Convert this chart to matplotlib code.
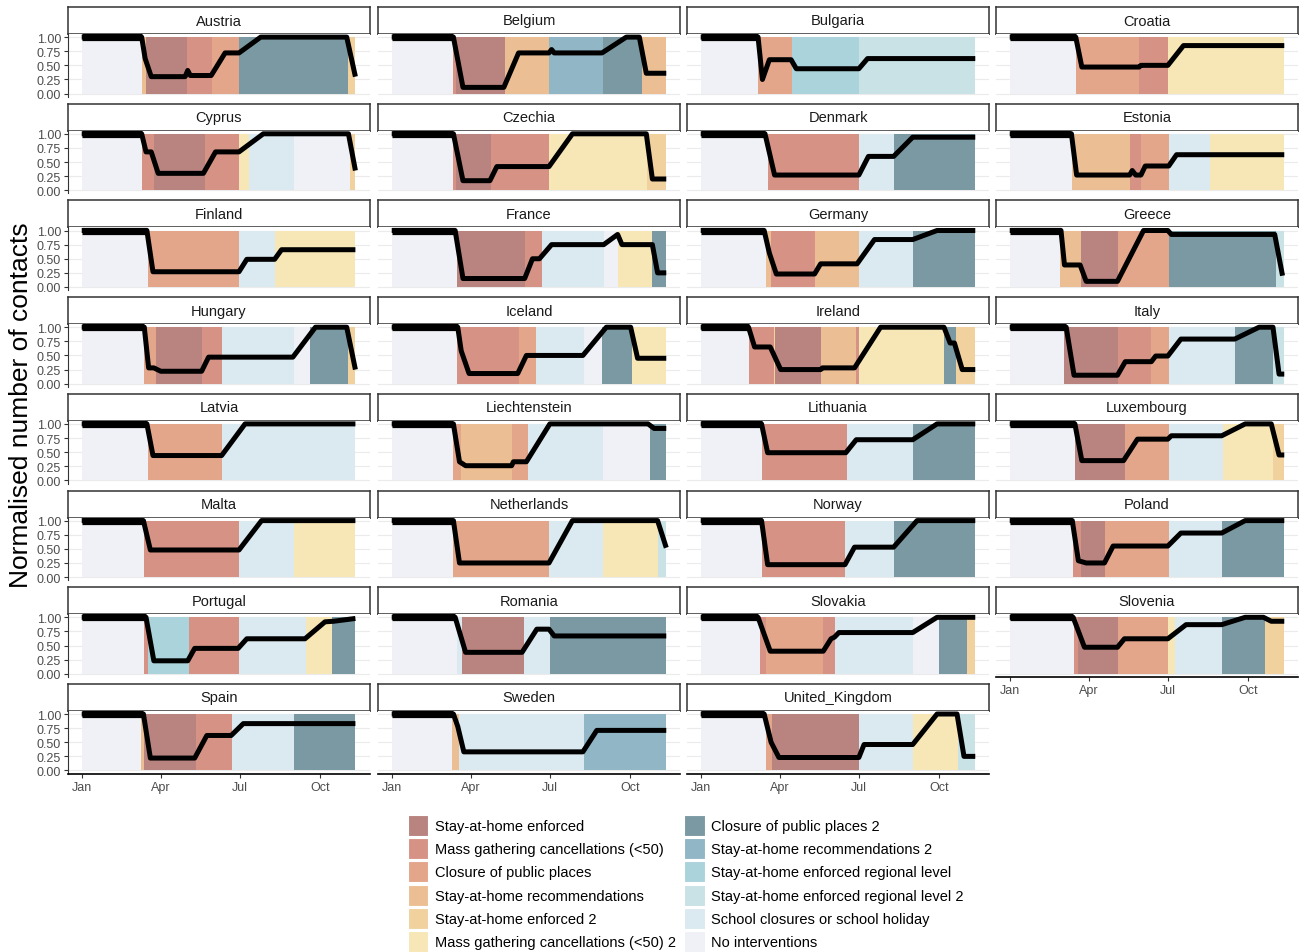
import matplotlib
matplotlib.use("Agg")
import matplotlib.pyplot as plt
from matplotlib.patches import Patch

plt.rcParams['font.family'] = ['Liberation Sans', 'DejaVu Sans']

# intervention categories (code, legend label, colour)
codes = ['SE', 'MG', 'CP', 'SR', 'SE2', 'MG2', 'CP2', 'SR2', 'SER', 'SER2', 'SC', 'NI']
labels = ['Stay-at-home enforced', 'Mass gathering cancellations (<50)',
          'Closure of public places', 'Stay-at-home recommendations',
          'Stay-at-home enforced 2', 'Mass gathering cancellations (<50) 2',
          'Closure of public places 2', 'Stay-at-home recommendations 2',
          'Stay-at-home enforced regional level', 'Stay-at-home enforced regional level 2',
          'School closures or school holiday', 'No interventions']
colors = ['#B98480', '#D69385', '#E3A68B', '#EBBF93', '#F1D29E', '#F7E7B6',
          '#7B99A2', '#91B6C5', '#ABD3DB', '#C8E2E6', '#DBEAF1', '#EFF1F6']

# days since 1 Jan 2020
month_ticks = [0, 91, 182, 274]
month_labels = ['Jan', 'Apr', 'Jul', 'Oct']

austria_bands = [(0, 69, 'NI'), (69, 74, 'SR'), (74, 121, 'SE'), (121, 150, 'MG'), (150, 181, 'CP'),
                 (181, 307, 'CP2'), (307, 315, 'SE2')]
austria_line = [(0, 1), (69, 1), (73, 0.62), (80, 0.3), (119, 0.3), (122, 0.41), (125, 0.32), (149, 0.32),
                (165, 0.72), (181, 0.72), (206, 1), (305, 1), (315, 0.3)]

belgium_bands = [(0, 71, 'NI'), (71, 74, 'MG'), (74, 130, 'SE'), (130, 181, 'SR'), (181, 243, 'SR2'),
                 (243, 288, 'CP2'), (288, 316, 'SR')]
belgium_line = [(0, 1), (71, 1), (82, 0.11), (129, 0.11), (146, 0.72), (181, 0.72), (184, 0.78), (187, 0.72),
                (242, 0.72), (270, 1), (285, 1), (293, 0.36), (316, 0.36)]

bulgaria_bands = [(0, 66, 'NI'), (66, 105, 'CP'), (105, 182, 'SER'), (182, 316, 'SER2')]
bulgaria_line = [(0, 1), (66, 1), (71, 0.25), (79, 0.6), (104, 0.6), (110, 0.44), (182, 0.44), (192, 0.62),
                 (316, 0.62)]

croatia_bands = [(0, 76, 'NI'), (76, 149, 'CP'), (149, 182, 'MG'), (182, 316, 'MG2')]
croatia_line = [(0, 1), (76, 1), (83, 0.47), (149, 0.47), (151, 0.5), (182, 0.5), (200, 0.85), (316, 0.85)]

cyprus_bands = [(0, 69, 'NI'), (69, 83, 'MG'), (83, 142, 'SE'), (142, 181, 'MG'), (181, 193, 'MG2'),
                (193, 244, 'SC'), (244, 309, 'NI'), (309, 315, 'SE2')]
cyprus_line = [(0, 1), (69, 1), (74, 0.68), (80, 0.68), (88, 0.3), (140, 0.3), (154, 0.68), (181, 0.68),
               (209, 1), (307, 1), (315, 0.35)]

czechia_bands = [(0, 71, 'NI'), (71, 74, 'MG'), (74, 114, 'SE'), (114, 181, 'MG'), (181, 294, 'MG2'),
                 (294, 316, 'SE2')]
czechia_line = [(0, 1), (71, 1), (82, 0.17), (113, 0.17), (121, 0.42), (181, 0.42), (208, 1), (293, 1),
                (300, 0.2), (316, 0.2)]

denmark_bands = [(0, 77, 'NI'), (77, 182, 'MG'), (182, 222, 'SC'), (222, 316, 'CP2')]
denmark_line = [(0, 1), (74, 1), (85, 0.27), (182, 0.27), (193, 0.6), (222, 0.6), (244, 0.94), (316, 0.94)]

estonia_bands = [(0, 72, 'NI'), (72, 138, 'SR'), (138, 151, 'MG'), (151, 183, 'CP'), (183, 231, 'SC'),
                 (231, 316, 'MG2')]
estonia_line = [(0, 1), (71, 1), (77, 0.27), (138, 0.27), (141, 0.35), (145, 0.27), (151, 0.27), (156, 0.43),
                (183, 0.43), (192, 0.63), (316, 0.63)]

finland_bands = [(0, 76, 'NI'), (76, 181, 'CP'), (181, 222, 'SC'), (222, 315, 'MG2')]
finland_line = [(0, 1), (75, 1), (82, 0.27), (181, 0.27), (190, 0.49), (222, 0.49), (230, 0.66), (315, 0.66)]

france_bands = [(0, 75, 'NI'), (75, 153, 'SE'), (153, 173, 'MG'), (173, 244, 'SC'), (244, 260, 'NI'),
                (260, 300, 'MG2'), (300, 316, 'CP2')]
france_line = [(0, 1), (73, 1), (82, 0.15), (153, 0.15), (162, 0.5), (170, 0.5), (184, 0.75), (244, 0.75),
               (260, 0.93), (265, 0.75), (300, 0.75), (306, 0.25), (316, 0.25)]

germany_bands = [(0, 75, 'NI'), (75, 81, 'SR'), (81, 131, 'MG'), (131, 182, 'SR'), (182, 244, 'SC'),
                 (244, 316, 'CP2')]
germany_line = [(0, 1), (73, 1), (79, 0.6), (87, 0.23), (131, 0.23), (138, 0.41), (180, 0.41), (200, 0.84),
                (244, 0.84), (272, 1), (316, 1)]

greece_bands = [(0, 58, 'NI'), (58, 82, 'SR'), (82, 125, 'SE'), (125, 183, 'CP'), (183, 307, 'CP2'),
                (307, 316, 'SER2')]
greece_line = [(0, 1), (59, 1), (63, 0.39), (81, 0.39), (88, 0.1), (124, 0.1), (154, 1), (182, 1),
               (186, 0.93), (305, 0.93), (314, 0.2)]

hungary_bands = [(0, 72, 'NI'), (72, 86, 'CP'), (86, 139, 'SE'), (139, 162, 'MG'), (162, 244, 'SC'),
                 (244, 263, 'NI'), (263, 307, 'CP2'), (307, 315, 'SE2')]
hungary_line = [(0, 1), (72, 1), (77, 0.28), (83, 0.28), (91, 0.22), (138, 0.22), (146, 0.47), (243, 0.47),
                (269, 1), (305, 1), (315, 0.25)]

iceland_bands = [(0, 75, 'NI'), (75, 146, 'MG'), (146, 166, 'CP'), (166, 221, 'SC'), (221, 242, 'NI'),
                 (242, 276, 'CP2'), (276, 316, 'MG2')]
iceland_line = [(0, 1), (76, 1), (80, 0.58), (89, 0.18), (145, 0.18), (155, 0.5), (220, 0.5), (247, 1),
                (275, 1), (283, 0.45), (316, 0.45)]

ireland_bands = [(0, 55, 'NI'), (55, 84, 'MG'), (84, 86, 'SE2'), (86, 138, 'SE'), (138, 179, 'SR'),
                 (179, 182, 'MG'), (182, 280, 'MG2'), (280, 294, 'CP2'), (294, 316, 'SE2')]
ireland_line = [(0, 1), (55, 1), (62, 0.65), (80, 0.65), (92, 0.25), (138, 0.25), (140, 0.28), (177, 0.28),
                (207, 1), (280, 1), (287, 0.72), (292, 0.72), (301, 0.25), (316, 0.25)]

italy_bands = [(0, 63, 'NI'), (63, 125, 'SE'), (125, 163, 'MG'), (163, 183, 'CP'), (183, 259, 'SC'),
               (259, 303, 'CP2'), (303, 316, 'SER2')]
italy_line = [(0, 1), (65, 1), (74, 0.15), (124, 0.15), (133, 0.39), (163, 0.39), (168, 0.49), (182, 0.49),
              (197, 0.79), (259, 0.79), (287, 1), (303, 1), (310, 0.17), (316, 0.17)]

latvia_bands = [(0, 76, 'NI'), (76, 162, 'CP'), (162, 315, 'SC')]
latvia_line = [(0, 1), (75, 1), (82, 0.44), (161, 0.44), (188, 1), (315, 1)]

liechtenstein_bands = [(0, 71, 'NI'), (71, 80, 'CP'), (80, 138, 'SR'), (138, 157, 'CP'), (157, 243, 'SC'),
                       (243, 297, 'NI'), (297, 316, 'CP2')]
liechtenstein_line = [(0, 1), (71, 1), (78, 0.33), (85, 0.26), (138, 0.26), (140, 0.33), (155, 0.33),
                      (182, 1), (295, 1), (302, 0.92), (316, 0.92)]

lithuania_bands = [(0, 71, 'NI'), (71, 168, 'MG'), (168, 244, 'SC'), (244, 316, 'CP2')]
lithuania_line = [(0, 1), (70, 1), (77, 0.49), (167, 0.49), (179, 0.72), (244, 0.72), (272, 1), (316, 1)]

luxembourg_bands = [(0, 75, 'NI'), (75, 133, 'SE'), (133, 183, 'CP'), (183, 245, 'SC'), (245, 303, 'MG2'),
                    (303, 316, 'SE2')]
luxembourg_line = [(0, 1), (75, 1), (83, 0.35), (131, 0.35), (147, 0.73), (182, 0.73), (186, 0.79),
                   (244, 0.79), (271, 1), (301, 1), (310, 0.45), (316, 0.45)]

malta_bands = [(0, 72, 'NI'), (72, 181, 'MG'), (181, 244, 'SC'), (244, 315, 'MG2')]
malta_line = [(0, 1), (71, 1), (79, 0.48), (181, 0.48), (207, 1), (315, 1)]

netherlands_bands = [(0, 71, 'NI'), (71, 181, 'CP'), (181, 243, 'SC'), (243, 307, 'MG2'), (307, 316, 'SER2')]
netherlands_line = [(0, 1), (71, 1), (78, 0.25), (181, 0.25), (208, 1), (306, 1), (316, 0.52)]

norway_bands = [(0, 71, 'NI'), (71, 166, 'MG'), (166, 222, 'SC'), (222, 316, 'CP2')]
norway_line = [(0, 1), (70, 1), (77, 0.22), (166, 0.22), (177, 0.53), (222, 0.53), (249, 1), (316, 1)]

poland_bands = [(0, 73, 'NI'), (73, 82, 'MG'), (82, 110, 'SE'), (110, 183, 'CP'), (183, 244, 'SC'),
                (244, 316, 'CP2')]
poland_line = [(0, 1), (72, 1), (79, 0.29), (88, 0.25), (109, 0.25), (119, 0.55), (182, 0.55), (197, 0.78),
               (244, 0.78), (271, 1), (316, 1)]

portugal_bands = [(0, 72, 'NI'), (72, 76, 'MG'), (76, 123, 'SER'), (123, 181, 'MG'), (181, 258, 'SC'),
                  (258, 288, 'MG2'), (288, 315, 'CP2')]
portugal_line = [(0, 1), (74, 1), (83, 0.23), (122, 0.23), (130, 0.45), (180, 0.45), (190, 0.62),
                 (257, 0.62), (280, 0.92), (290, 0.93), (315, 0.98)]

romania_bands = [(0, 75, 'NI'), (75, 81, 'SC'), (81, 152, 'SE'), (152, 182, 'SC'), (182, 316, 'CP2')]
romania_line = [(0, 1), (73, 1), (85, 0.38), (150, 0.38), (167, 0.79), (181, 0.79), (187, 0.67), (316, 0.67)]

slovakia_bands = [(0, 68, 'NI'), (68, 75, 'MG'), (75, 141, 'CP'), (141, 155, 'MG'), (155, 244, 'SC'),
                  (244, 274, 'NI'), (274, 306, 'CP2'), (306, 316, 'SE2')]
slovakia_line = [(0, 1), (66, 1), (80, 0.4), (141, 0.4), (150, 0.62), (154, 0.65), (159, 0.73), (244, 0.73),
                 (272, 1), (316, 1)]

slovenia_bands = [(0, 74, 'NI'), (74, 79, 'MG'), (79, 125, 'SE'), (125, 182, 'CP'), (182, 190, 'MG2'),
                  (190, 244, 'SC'), (244, 294, 'CP2'), (294, 316, 'SE2')]
slovenia_line = [(0, 1), (73, 1), (86, 0.47), (124, 0.47), (132, 0.62), (182, 0.62), (203, 0.87),
                 (244, 0.87), (271, 1), (292, 1), (301, 0.93), (316, 0.93)]

spain_bands = [(0, 68, 'NI'), (68, 72, 'SR'), (72, 132, 'SE'), (132, 173, 'MG'), (173, 244, 'SC'),
               (244, 315, 'CP2')]
spain_line = [(0, 1), (71, 1), (79, 0.22), (130, 0.22), (144, 0.62), (172, 0.62), (186, 0.83), (315, 0.83)]

sweden_bands = [(0, 69, 'NI'), (69, 77, 'SR'), (77, 221, 'SC'), (221, 316, 'SR2')]
sweden_line = [(0, 1), (71, 1), (76, 0.78), (83, 0.33), (220, 0.33), (236, 0.71), (316, 0.71)]

uk_bands = [(0, 75, 'NI'), (75, 82, 'CP'), (82, 182, 'SE'), (182, 244, 'SC'), (244, 296, 'MG2'),
            (296, 316, 'SER2')]
uk_line = [(0, 1), (73, 1), (81, 0.5), (90, 0.23), (182, 0.23), (188, 0.46), (244, 0.46), (272, 1), (295, 1),
           (303, 0.25), (316, 0.25)]

countries = [
    ('Austria', austria_bands, austria_line), ('Belgium', belgium_bands, belgium_line),
    ('Bulgaria', bulgaria_bands, bulgaria_line), ('Croatia', croatia_bands, croatia_line),
    ('Cyprus', cyprus_bands, cyprus_line), ('Czechia', czechia_bands, czechia_line),
    ('Denmark', denmark_bands, denmark_line), ('Estonia', estonia_bands, estonia_line),
    ('Finland', finland_bands, finland_line), ('France', france_bands, france_line),
    ('Germany', germany_bands, germany_line), ('Greece', greece_bands, greece_line),
    ('Hungary', hungary_bands, hungary_line), ('Iceland', iceland_bands, iceland_line),
    ('Ireland', ireland_bands, ireland_line), ('Italy', italy_bands, italy_line),
    ('Latvia', latvia_bands, latvia_line), ('Liechtenstein', liechtenstein_bands, liechtenstein_line),
    ('Lithuania', lithuania_bands, lithuania_line), ('Luxembourg', luxembourg_bands, luxembourg_line),
    ('Malta', malta_bands, malta_line), ('Netherlands', netherlands_bands, netherlands_line),
    ('Norway', norway_bands, norway_line), ('Poland', poland_bands, poland_line),
    ('Portugal', portugal_bands, portugal_line), ('Romania', romania_bands, romania_line),
    ('Slovakia', slovakia_bands, slovakia_line), ('Slovenia', slovenia_bands, slovenia_line),
    ('Spain', spain_bands, spain_line), ('Sweden', sweden_bands, sweden_line),
    ('United_Kingdom', uk_bands, uk_line),
]

color_of = dict(zip(codes, colors))

W, H = 1299, 953
fig = plt.figure(figsize=(W / 100, H / 100), dpi=100)

col_x = [68, 378, 687, 996]
panel_w = 302
row_pitch = 96.7
strip_h = 27
plot_h = 62.7

for i, (name, bands, line) in enumerate(countries):
    r, c = divmod(i, 4)
    st = 8 + r * row_pitch
    x0 = col_x[c]

    # strip
    sax = fig.add_axes([x0 / W, 1 - (st + strip_h) / H, panel_w / W, strip_h / H])
    sax.set_xticks([])
    sax.set_yticks([])
    for sp in sax.spines.values():
        sp.set_color('#333333')
        sp.set_linewidth(1.1)
    sax.text(0.5, 0.5, name, ha='center', va='center', fontsize=10.5, color='#1A1A1A',
             transform=sax.transAxes)

    top = st + strip_h
    ax = fig.add_axes([x0 / W, 1 - (top + plot_h) / H, panel_w / W, plot_h / H])
    ax.set_xlim(-15.8, 331.8)
    ax.set_ylim(-0.055, 1.055)
    ax.set_axisbelow(True)
    ax.grid(axis='y', color='#EBEBEB', lw=0.8)
    ax.set_yticks([0, 0.25, 0.5, 0.75, 1.0])

    for s, e, code in bands:
        ax.bar(s, 1.0, width=e - s, bottom=0, align='edge', color=color_of[code], lw=0, zorder=1)

    xs = [p[0] for p in line]
    ys = [p[1] for p in line]
    ax.plot(xs[:2], ys[:2], color='black', lw=5.2, solid_capstyle='butt', zorder=3)
    ax.plot(xs, ys, color='black', lw=3.6, solid_capstyle='butt', solid_joinstyle='round', zorder=3)

    for sp in ['top', 'right', 'bottom', 'left']:
        ax.spines[sp].set_visible(False)

    if c == 0:
        ax.spines['left'].set_visible(True)
        ax.spines['left'].set_color('#333333')
        ax.spines['left'].set_linewidth(0.8)
        ax.set_yticklabels(['0.00', '0.25', '0.50', '0.75', '1.00'])
        ax.tick_params(axis='y', length=3, width=0.8, color='#333333', labelsize=9,
                       labelcolor='#4D4D4D', pad=2)
    else:
        ax.tick_params(axis='y', length=0, labelleft=False)

    bottom_panel = r == 7 or (r == 6 and c == 3)
    ax.set_xticks(month_ticks)
    if bottom_panel:
        ax.spines['bottom'].set_visible(True)
        ax.spines['bottom'].set_color('black')
        ax.spines['bottom'].set_linewidth(1.2)
        ax.set_xticklabels(month_labels)
        ax.tick_params(axis='x', length=3, width=0.8, color='#333333', labelsize=9,
                       labelcolor='#4D4D4D', pad=2)
    else:
        ax.tick_params(axis='x', length=0, labelbottom=False)

fig.text(0.016, 1 - 405 / H, 'Normalised number of contacts', rotation=90, ha='center', va='center',
         fontsize=19, color='black')

handles = [Patch(facecolor=col, edgecolor='white', lw=0.8) for col in colors]
fig.legend(handles, labels, ncol=2, loc='center', bbox_to_anchor=(0.528, 0.072), frameon=False,
           fontsize=10.5, handlelength=1.4, handleheight=1.84, labelspacing=0.16,
           handletextpad=0.45, columnspacing=0.6)

fig.savefig('out.png', dpi=100)
